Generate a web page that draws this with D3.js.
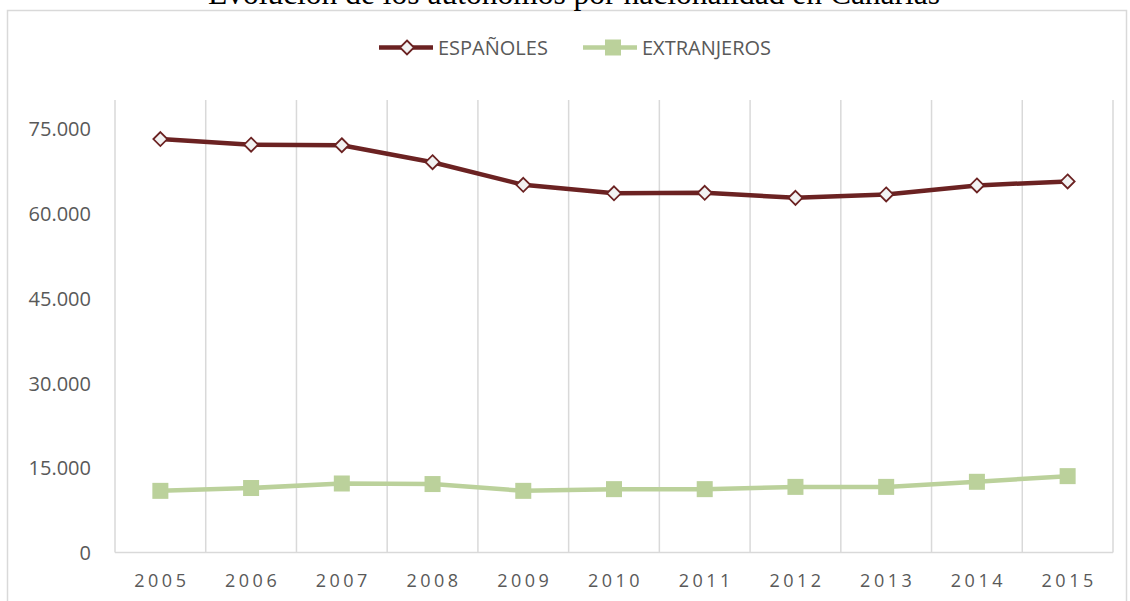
<!DOCTYPE html>
<html>
<head>
<meta charset="utf-8">
<script src="https://cdn.jsdelivr.net/npm/d3@7"></script>
<style>
  html, body { margin: 0; padding: 0; background: #fff; }
  svg { display: block; }
</style>
</head>
<body>
<div id="chart"></div>
<script>
// Evolución de los autónomos por nacionalidad en Canarias — line chart, two series

var YEARS = ["2005", "2006", "2007", "2008", "2009", "2010", "2011", "2012", "2013", "2014", "2015"];
var ESPANOLES = [73100, 72100, 72000, 69000, 65000, 63500, 63600, 62700, 63300, 64900, 65600];
var EXTRANJEROS = [10900, 11400, 12200, 12100, 10900, 11200, 11200, 11600, 11600, 12500, 13500];
var Y_TICKS = [0, 15000, 30000, 45000, 60000, 75000];
var SERIES_NAMES = ["ESPAÑOLES", "EXTRANJEROS"];

(function () {
  "use strict";

  var W = 1130, H = 601;
  var plot = { left: 115, right: 1113, top: 100, bottom: 552.5 };
  var COL_ESP = "#6B2222", COL_EXT = "#BBD19B", GRID = "#D9D9D9", TEXT = "#595959";
  var SANS = "'Open Sans', 'Noto Sans', sans-serif";

  var esLocale = d3.formatLocale({ decimal: ",", thousands: ".", grouping: [3], currency: ["", " €"] });
  var fmt = esLocale.format(",");

  var svg = d3.select("#chart").append("svg")
    .attr("width", W)
    .attr("height", H)
    .attr("viewBox", "0 0 " + W + " " + H);

  // chart frame
  svg.append("rect")
    .attr("x", 7.5).attr("y", 10.5)
    .attr("width", 1119).attr("height", H + 10)
    .attr("fill", "none").attr("stroke", GRID).attr("stroke-width", 1.5);

  // title (cut at the top, as in the source)
  svg.append("text")
    .attr("x", 574).attr("y", 4)
    .attr("text-anchor", "middle")
    .attr("font-family", "'Liberation Serif', 'Times New Roman', serif")
    .attr("font-size", 31.5)
    .attr("fill", "#000")
    .text("Evolución de los autónomos por nacionalidad en Canarias");

  var x = d3.scaleBand().domain(YEARS).range([plot.left, plot.right]).padding(0);
  var y = d3.scaleLinear().domain([0, 80000]).range([plot.bottom, plot.top]);

  // vertical gridlines at category boundaries
  var bounds = YEARS.map(function (d) { return x(d); }).concat([plot.right]);
  svg.append("g").selectAll("line")
    .data(bounds)
    .enter().append("line")
    .attr("x1", function (d) { return d; }).attr("x2", function (d) { return d; })
    .attr("y1", plot.top).attr("y2", plot.bottom)
    .attr("stroke", GRID).attr("stroke-width", 1.5);

  // x axis baseline
  svg.append("line")
    .attr("x1", plot.left).attr("x2", plot.right)
    .attr("y1", plot.bottom).attr("y2", plot.bottom)
    .attr("stroke", GRID).attr("stroke-width", 1.5);

  // y axis labels
  var yAxis = d3.axisLeft(y).tickValues(Y_TICKS).tickFormat(fmt).tickSize(0).tickPadding(0);
  var gy = svg.append("g").attr("transform", "translate(91,0)").call(yAxis);
  gy.select(".domain").remove();
  gy.selectAll("text")
    .attr("font-family", SANS).attr("font-size", 20)
    .attr("fill", TEXT).attr("dy", "0.36em");

  // x axis labels
  var xAxis = d3.axisBottom(x).tickSize(0).tickPadding(0);
  var gx = svg.append("g").attr("transform", "translate(1.5," + (plot.bottom + 28) + ")").call(xAxis);
  gx.select(".domain").remove();
  gx.selectAll("text")
    .attr("font-family", SANS).attr("font-size", 18)
    .attr("letter-spacing", 3.5)
    .attr("fill", TEXT).attr("dy", "0.36em");

  var cx = function (d, i) { return x(YEARS[i]) + x.bandwidth() / 2; };
  var line = d3.line().x(cx).y(function (d) { return y(d); });

  var DIAMOND = "M0,-7 L7,0 L0,7 L-7,0 Z";

  // EXTRANJEROS
  svg.append("path").datum(EXTRANJEROS)
    .attr("d", line).attr("fill", "none")
    .attr("stroke", COL_EXT).attr("stroke-width", 4.5).attr("stroke-linejoin", "round");
  svg.append("g").selectAll("rect")
    .data(EXTRANJEROS).enter().append("rect")
    .attr("x", function (d, i) { return cx(d, i) - 8; })
    .attr("y", function (d) { return y(d) - 8; })
    .attr("width", 16).attr("height", 16)
    .attr("fill", COL_EXT);

  // ESPAÑOLES
  svg.append("path").datum(ESPANOLES)
    .attr("d", line).attr("fill", "none")
    .attr("stroke", COL_ESP).attr("stroke-width", 4.5).attr("stroke-linejoin", "round");
  svg.append("g").selectAll("path")
    .data(ESPANOLES).enter().append("path")
    .attr("d", DIAMOND)
    .attr("transform", function (d, i) { return "translate(" + cx(d, i) + "," + y(d) + ")"; })
    .attr("fill", "#F2F2F2").attr("stroke", COL_ESP).attr("stroke-width", 1.8);

  // legend
  var legendY = 47.5;
  var legend = [
    { name: SERIES_NAMES[0], x0: 379, color: COL_ESP, marker: "diamond" },
    { name: SERIES_NAMES[1], x0: 583, color: COL_EXT, marker: "square" }
  ];
  var lg = svg.append("g").selectAll("g").data(legend).enter().append("g")
    .attr("transform", function (d) { return "translate(" + d.x0 + "," + legendY + ")"; });
  lg.append("line")
    .attr("x1", 0).attr("x2", 54).attr("y1", 0).attr("y2", 0)
    .attr("stroke", function (d) { return d.color; }).attr("stroke-width", 4.5);
  lg.filter(function (d) { return d.marker === "diamond"; }).append("path")
    .attr("d", DIAMOND).attr("transform", "translate(28,0)")
    .attr("fill", "#F2F2F2").attr("stroke", COL_ESP).attr("stroke-width", 1.8);
  lg.filter(function (d) { return d.marker === "square"; }).append("rect")
    .attr("x", 22).attr("y", -8).attr("width", 16).attr("height", 16)
    .attr("fill", COL_EXT);
  lg.append("text")
    .attr("x", 59).attr("y", 0).attr("dy", "0.36em")
    .attr("font-family", SANS).attr("font-size", 20)
    .attr("fill", TEXT)
    .text(function (d) { return d.name; });
})();
</script>
</body>
</html>
